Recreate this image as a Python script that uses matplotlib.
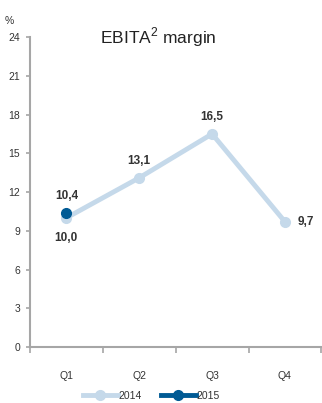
import matplotlib.pyplot as plt
from matplotlib.lines import Line2D

quarters = ["Q1", "Q2", "Q3", "Q4"]
margin_2014 = [10.0, 13.1, 16.5, 9.7]
margin_2015 = [10.4]
y_ticks = [0, 3, 6, 9, 12, 15, 18, 21, 24]

LIGHT = "#c5d9ea"
DARK = "#005a94"
AXIS = "#a6a6a6"
TEXT = "#333333"

plt.rcParams["font.family"] = ["Liberation Sans Narrow", "Liberation Sans", "DejaVu Sans"]
plt.rcParams["mathtext.fontset"] = "custom"
plt.rcParams["mathtext.rm"] = "Liberation Sans"


def fmt(v):
    return f"{v:.1f}".replace(".", ",")


fig = plt.figure(figsize=(3.22, 4.03), dpi=100)
ax = fig.add_axes([0.093, 0.139, 0.905, 0.769])

x = list(range(len(quarters)))
ax.plot(x, margin_2014, color=LIGHT, lw=3.5, marker="o", ms=7,
        solid_capstyle="round", zorder=2)
ax.plot(x[:len(margin_2015)], margin_2015, color=DARK, lw=3.5, marker="o",
        ms=7, zorder=3)

# value labels
lbl = dict(fontsize=8.5, fontweight="bold", color=TEXT, textcoords="offset points")
ax.annotate(fmt(margin_2015[0]), (0, margin_2015[0]), xytext=(0, 8),
            ha="center", va="bottom", **lbl)
ax.annotate(fmt(margin_2014[0]), (0, margin_2014[0]), xytext=(0, -10),
            ha="center", va="top", **lbl)
for i in (1, 2):
    ax.annotate(fmt(margin_2014[i]), (i, margin_2014[i]), xytext=(0, 8),
                ha="center", va="bottom", **lbl)
ax.annotate(fmt(margin_2014[3]), (3, margin_2014[3]), xytext=(9, 0),
            ha="left", va="center", **lbl)

ax.set_xlim(-0.5, 3.5)
ax.set_ylim(0, 24)
ax.set_yticks(y_ticks)
ax.set_yticklabels([str(v) for v in y_ticks])
ax.set_xticks([-0.5, 0.5, 1.5, 2.5, 3.5])
ax.set_xticklabels([])
ax.set_xticks(x, minor=True)
ax.set_xticklabels(quarters, minor=True)
ax.tick_params(axis="x", which="minor", length=0, pad=17, labelsize=7.5, labelcolor=TEXT)
ax.tick_params(axis="x", which="major", length=4, color=AXIS, width=1.2)
ax.tick_params(axis="y", length=3, color=AXIS, width=1.2, labelsize=7.5,
               labelcolor=TEXT, pad=4)

for side in ("top", "right"):
    ax.spines[side].set_visible(False)
for side in ("left", "bottom"):
    ax.spines[side].set_color(AXIS)
    ax.spines[side].set_linewidth(1.5)

ax.text(-0.07, 1.035, "%", transform=ax.transAxes, fontsize=7.5, color=TEXT,
        ha="center", va="bottom")
ax.text(0.44, 1.0, "EBITA$^{\\mathregular{2}}$ margin", transform=ax.transAxes,
        fontsize=12.5, color="#222222", ha="center", va="center")

handles = [Line2D([], [], color=LIGHT, lw=3.5, marker="o", ms=7),
           Line2D([], [], color=DARK, lw=3.5, marker="o", ms=7)]
fig.legend(handles, ["2014", "2015"], loc="center", bbox_to_anchor=(0.47, 0.018),
           ncol=2, frameon=False, fontsize=7.5, handlelength=3.4,
           handletextpad=0.05, columnspacing=1.8, labelcolor=TEXT,
           borderpad=0)

fig.savefig("out.png", dpi=100)
